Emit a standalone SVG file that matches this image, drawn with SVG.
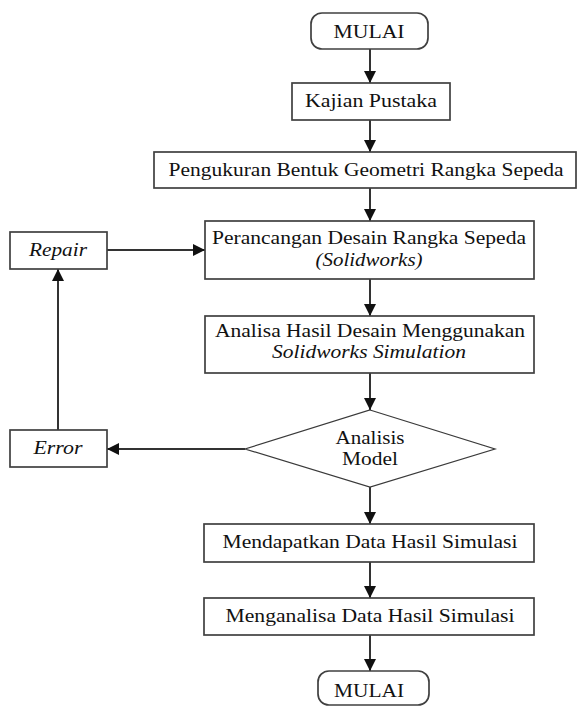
<svg xmlns="http://www.w3.org/2000/svg" width="580" height="706" viewBox="0 0 580 706">
<style>
.box{fill:#fff;stroke:#404040;stroke-width:1.7}
.dia{fill:#fff;stroke:#3a3a3a;stroke-width:1.2}
.t{font-family:"Liberation Serif","Times New Roman",serif;font-size:18px;fill:#111;text-anchor:middle}
.i{font-style:italic}
.ln{fill:none;stroke:#333;stroke-width:2}
</style>
<defs>
<marker id="ah" viewBox="0 0 12 12" refX="12" refY="6" markerWidth="12" markerHeight="12" markerUnits="userSpaceOnUse" orient="auto">
<path d="M0,0 L12,6 L0,12 Z" fill="#111"/>
</marker>
</defs>
<rect width="580" height="706" fill="#fff"/>
<g id="connectors">
<line class="ln" x1="370" y1="49" x2="370" y2="83" marker-end="url(#ah)"/>
<line class="ln" x1="370" y1="120" x2="370" y2="152" marker-end="url(#ah)"/>
<line class="ln" x1="370" y1="188" x2="370" y2="221" marker-end="url(#ah)"/>
<line class="ln" x1="370" y1="279" x2="370" y2="316" marker-end="url(#ah)"/>
<line class="ln" x1="370" y1="373" x2="370" y2="410" marker-end="url(#ah)"/>
<line class="ln" x1="370" y1="487" x2="370" y2="524" marker-end="url(#ah)"/>
<line class="ln" x1="370" y1="562" x2="370" y2="598" marker-end="url(#ah)"/>
<line class="ln" x1="370" y1="635" x2="370" y2="671" marker-end="url(#ah)"/>
<line class="ln" x1="245" y1="449" x2="107" y2="449" marker-end="url(#ah)"/>
<line class="ln" x1="58" y1="430" x2="58" y2="269" marker-end="url(#ah)"/>
<line class="ln" x1="107" y1="250" x2="205" y2="250" marker-end="url(#ah)"/>
</g>
<g id="start">
<rect class="box" x="311" y="13" width="117" height="36" rx="11"/>
<text class="t" x="369" y="38" textLength="71" lengthAdjust="spacingAndGlyphs">MULAI</text>
</g>
<g id="kajian">
<rect class="box" x="292" y="83" width="158" height="37"/>
<text class="t" x="371" y="107" textLength="132" lengthAdjust="spacingAndGlyphs">Kajian Pustaka</text>
</g>
<g id="pengukuran">
<rect class="box" x="154" y="152" width="422" height="36"/>
<text class="t" x="366" y="176" textLength="395" lengthAdjust="spacingAndGlyphs">Pengukuran Bentuk Geometri Rangka Sepeda</text>
</g>
<g id="perancangan">
<rect class="box" x="205" y="221" width="329" height="58"/>
<text class="t" x="369" y="244" textLength="314" lengthAdjust="spacingAndGlyphs">Perancangan Desain Rangka Sepeda</text>
<text class="t i" x="369" y="266" textLength="107" lengthAdjust="spacingAndGlyphs">(Solidworks)</text>
</g>
<g id="analisa">
<rect class="box" x="205" y="316" width="329" height="57"/>
<text class="t" x="370" y="337" textLength="310" lengthAdjust="spacingAndGlyphs">Analisa Hasil Desain Menggunakan</text>
<text class="t i" x="369" y="358" textLength="194" lengthAdjust="spacingAndGlyphs">Solidworks Simulation</text>
</g>
<g id="analisis-model">
<polygon class="dia" points="370,410 495,449 370,487 245,449"/>
<text class="t" x="370" y="444" textLength="69" lengthAdjust="spacingAndGlyphs">Analisis</text>
<text class="t" x="370" y="465" textLength="56" lengthAdjust="spacingAndGlyphs">Model</text>
</g>
<g id="repair">
<rect class="box" x="10" y="232" width="97" height="37"/>
<text class="t i" x="58" y="256" textLength="58" lengthAdjust="spacingAndGlyphs">Repair</text>
</g>
<g id="error">
<rect class="box" x="10" y="430" width="97" height="37"/>
<text class="t i" x="58" y="454" textLength="49" lengthAdjust="spacingAndGlyphs">Error</text>
</g>
<g id="mendapatkan">
<rect class="box" x="204" y="524" width="330" height="38"/>
<text class="t" x="370" y="548" textLength="295" lengthAdjust="spacingAndGlyphs">Mendapatkan Data Hasil Simulasi</text>
</g>
<g id="menganalisa">
<rect class="box" x="204" y="598" width="330" height="37"/>
<text class="t" x="370" y="622" textLength="289" lengthAdjust="spacingAndGlyphs">Menganalisa Data Hasil Simulasi</text>
</g>
<g id="end">
<rect class="box" x="318" y="671" width="111" height="34" rx="11"/>
<text class="t" x="369" y="697" textLength="70" lengthAdjust="spacingAndGlyphs">MULAI</text>
</g>
</svg>
